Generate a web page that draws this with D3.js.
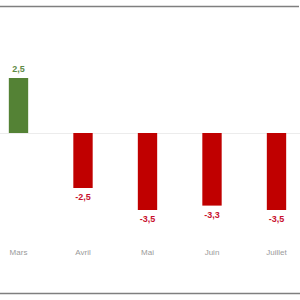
<!DOCTYPE html>
<html>
<head>
<meta charset="utf-8">
<script src="https://cdn.jsdelivr.net/npm/d3@7"></script>
<style>
  body { margin: 0; background: #fff; }
</style>
</head>
<body>
<div id="chart"></div>
<script>
// Data
const months = ["Mars", "Avril", "Mai", "Juin", "Juillet"];
const values = [2.5, -2.5, -3.5, -3.3, -3.5];

const width = 300;
const height = 300;

const data = months.map((m, i) => ({ month: m, value: values[i] }));

const xScale = d3.scaleBand()
    .domain(months)
    .range([-13.75, 308.75])
    .paddingInner(0.7)
    .paddingOuter(0.35);

const yScale = d3.scaleLinear()
    .domain([-3.5, 2.5])
    .range([210, 78]);

const svg = d3.select("#chart")
    .append("svg")
    .attr("width", width)
    .attr("height", height);

// Frame lines top and bottom
svg.append("line")
    .attr("x1", 0).attr("x2", 299)
    .attr("y1", 6.5).attr("y2", 6.5)
    .attr("stroke", "#7f7f7f")
    .attr("stroke-width", 1.5);

svg.append("line")
    .attr("x1", 0).attr("x2", 300)
    .attr("y1", 293.5).attr("y2", 293.5)
    .attr("stroke", "#7f7f7f")
    .attr("stroke-width", 1.5);

// Zero line
svg.append("line")
    .attr("x1", 0).attr("x2", width)
    .attr("y1", yScale(0) + 0.5).attr("y2", yScale(0) + 0.5)
    .attr("stroke", "#ececec")
    .attr("stroke-width", 1);

// Bars
svg.selectAll(".bar")
    .data(data)
    .join("rect")
    .attr("class", "bar")
    .attr("x", d => xScale(d.month))
    .attr("width", xScale.bandwidth())
    .attr("y", d => yScale(Math.max(0, d.value)))
    .attr("height", d => Math.abs(yScale(d.value) - yScale(0)))
    .attr("fill", d => d.value >= 0 ? "#548235" : "#c00000");

// Value labels
const fmt = v => d3.format(".1f")(v).replace(".", ",").replace("\u2212", "-");

svg.selectAll(".val")
    .data(data)
    .join("text")
    .attr("class", "val")
    .attr("x", d => xScale(d.month) + xScale.bandwidth() / 2)
    .attr("y", d => d.value >= 0 ? yScale(d.value) - 8 : yScale(d.value) + 10)
    .attr("text-anchor", "middle")
    .attr("dominant-baseline", "middle")
    .attr("font-family", "Liberation Sans, Arial, sans-serif")
    .attr("font-size", "9px")
    .attr("font-weight", "bold")
    .attr("fill", d => d.value >= 0 ? "#5f8a45" : "#c8102e")
    .text(d => fmt(d.value));

// Month labels
svg.selectAll(".month")
    .data(data)
    .join("text")
    .attr("class", "month")
    .attr("x", d => xScale(d.month) + xScale.bandwidth() / 2)
    .attr("y", 253)
    .attr("text-anchor", "middle")
    .attr("dominant-baseline", "middle")
    .attr("font-family", "Liberation Sans, Arial, sans-serif")
    .attr("font-size", "8px")
    .attr("fill", "#9a9a9a")
    .text(d => d.month);
</script>
</body>
</html>
